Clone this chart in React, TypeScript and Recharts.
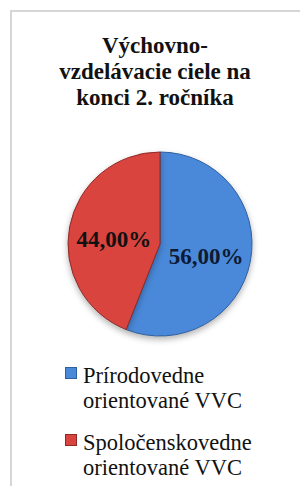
import { PieChart, Pie, Cell, Legend } from "recharts";

const categories = ["Prírodovedne orientované VVC", "Spoločenskovedne orientované VVC"];
const legendLines = [
  ["Prírodovedne", "orientované VVC"],
  ["Spoločenskovedne", "orientované VVC"],
];
const shares = [56, 44];
const titleLines = ["Výchovno-", "vzdelávacie ciele na", "konci 2. ročníka"];

const fills = ["#4a89d9", "#d9443f"];
const strokes = ["#2f5f9e", "#8e2b28"];
const labelColors = ["#0d1a33", "#111111"];

const data = categories.map((name, i) => ({ name, value: shares[i] }));

const RADIAN = Math.PI / 180;
const serif = "'Liberation Serif', 'Times New Roman', serif";

function renderLabel(props: any) {
  const { cx, cy, midAngle, outerRadius, value, index } = props;
  const r = outerRadius * 0.51;
  const x = cx + r * Math.cos(-midAngle * RADIAN);
  const y = cy + r * Math.sin(-midAngle * RADIAN) + 4;
  return (
    <text
      x={x}
      y={y}
      textAnchor="middle"
      dominantBaseline="central"
      fill={labelColors[index]}
      fontFamily={serif}
      fontWeight="bold"
      fontSize={23}
    >
      {value.toFixed(2).replace(".", ",") + "%"}
    </text>
  );
}

function renderLegend() {
  return (
    <div style={{ fontFamily: serif, fontSize: 22.5, lineHeight: "25px", color: "#111", textAlign: "left" }}>
      {legendLines.map((lines, i) => (
        <div key={i} style={{ position: "relative", paddingLeft: 18, marginBottom: 17 }}>
          <span
            style={{
              position: "absolute",
              left: 0,
              top: 4,
              width: 10,
              height: 10,
              background: fills[i],
              border: `1px solid ${strokes[i]}`,
            }}
          />
          {lines.map((l, j) => (
            <div key={j}>{l}</div>
          ))}
        </div>
      ))}
    </div>
  );
}

export default function App() {
  return (
    <div style={{ position: "absolute", left: 0, top: 0, width: 300, height: 486, background: "#fff", overflow: "hidden" }}>
      <div
        style={{
          position: "absolute",
          left: 10,
          top: 10,
          width: 300,
          height: 490,
          borderLeft: "2px solid #d6d6d6",
          borderTop: "2px solid #d6d6d6",
        }}
      />
      <div
        style={{
          position: "absolute",
          left: 10,
          top: 33,
          width: 290,
          textAlign: "center",
          fontFamily: serif,
          fontWeight: "bold",
          fontSize: 23,
          lineHeight: "26px",
          color: "#111",
        }}
      >
        {titleLines.map((t, i) => (
          <div key={i}>{t}</div>
        ))}
      </div>
      <div style={{ position: "absolute", left: 0, top: 0 }}>
        <PieChart width={300} height={486} margin={{ top: 0, right: 0, bottom: 0, left: 0 }}>
          <Pie
            data={data}
            dataKey="value"
            nameKey="name"
            cx={160}
            cy={244}
            outerRadius={92}
            startAngle={90}
            endAngle={-270}
            label={renderLabel}
            labelLine={false}
            isAnimationActive={false}
          >
            {data.map((d, i) => (
              <Cell
                key={d.name}
                fill={fills[i]}
                stroke={strokes[i]}
                strokeWidth={1}
                style={{ filter: "drop-shadow(0px 3px 3px rgba(0,0,0,0.3))" }}
              />
            ))}
          </Pie>
          <Legend
            layout="horizontal"
            align="left"
            verticalAlign="bottom"
            content={renderLegend}
            wrapperStyle={{ position: "absolute", top: 363, left: 65, bottom: "auto", width: 230 }}
          />
        </PieChart>
      </div>
    </div>
  );
}
